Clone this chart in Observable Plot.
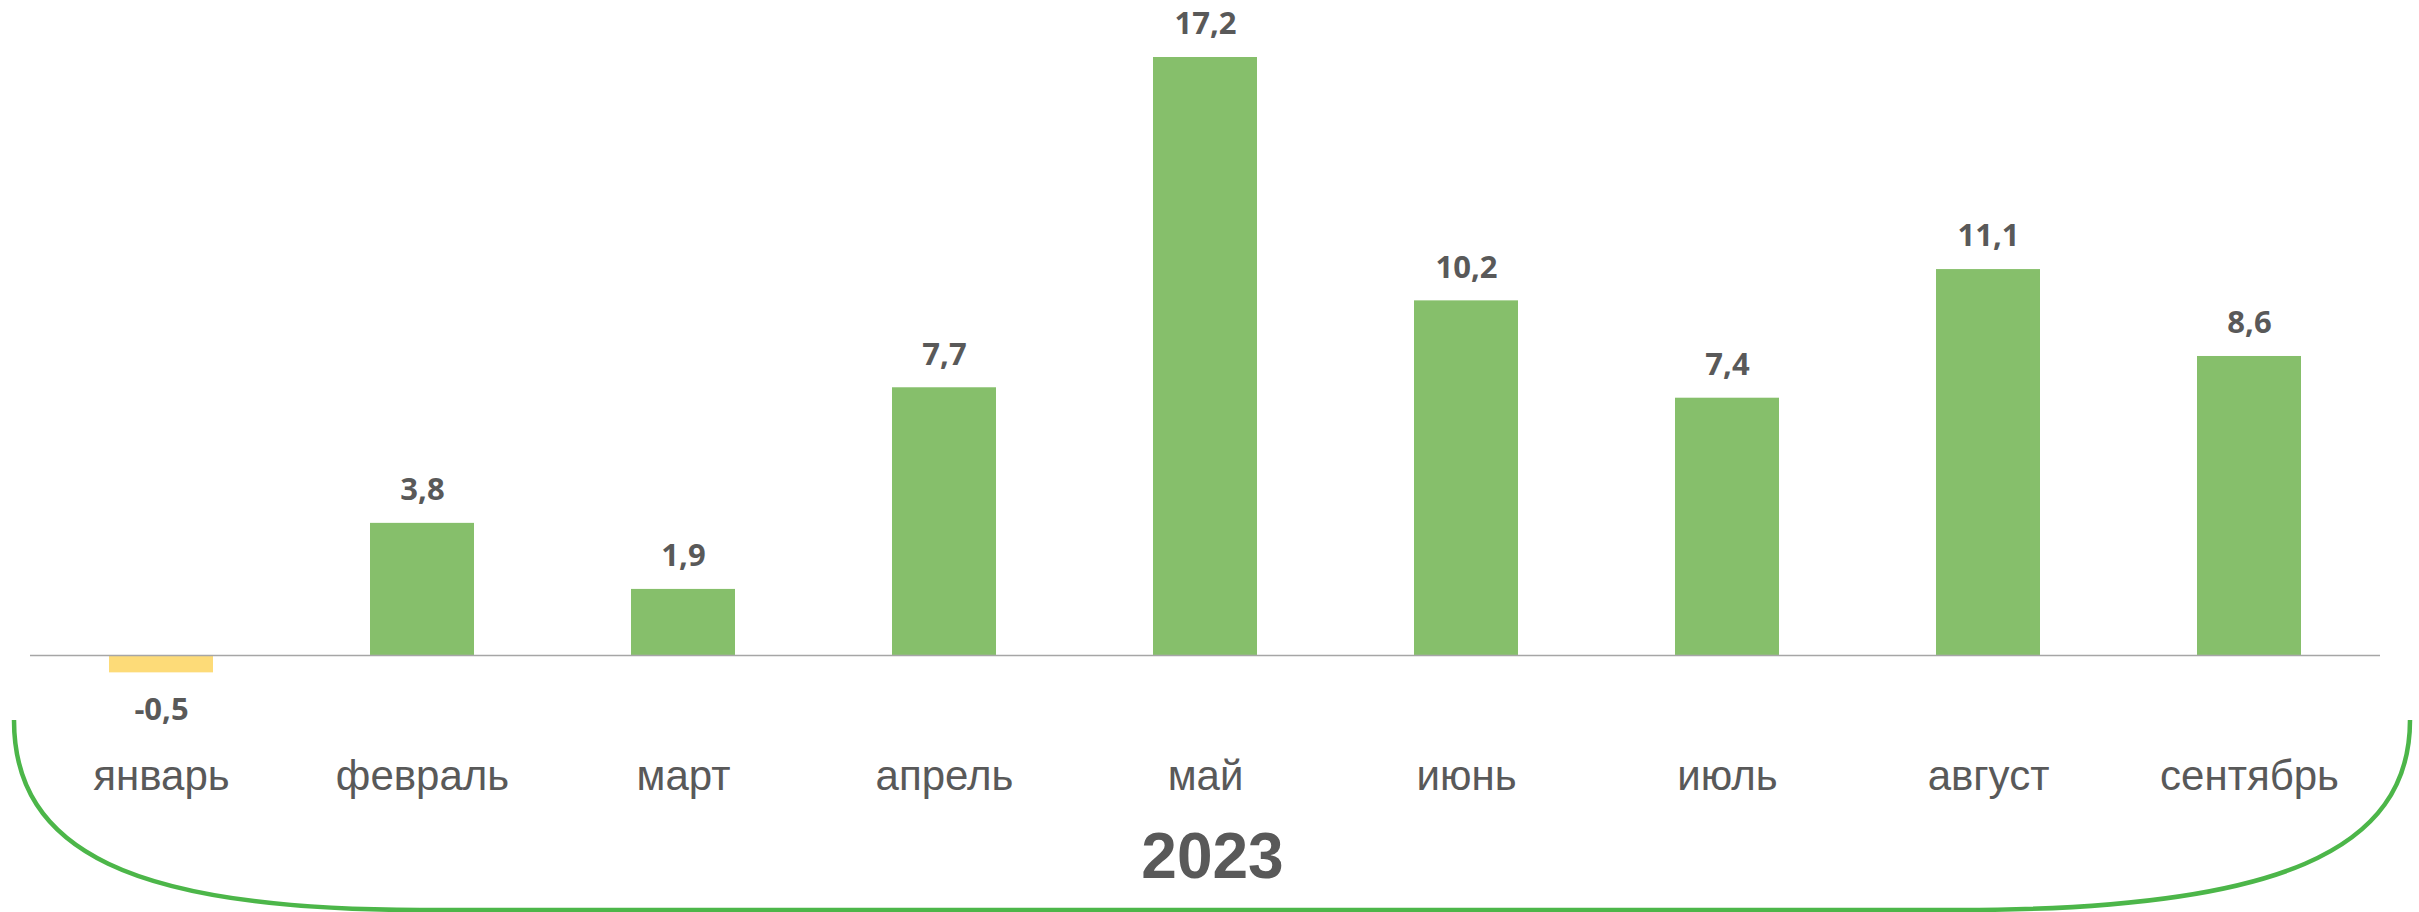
<!DOCTYPE html>
<html>
<head>
<meta charset="utf-8">
<script src="https://cdn.jsdelivr.net/npm/d3@7"></script>
<script src="https://cdn.jsdelivr.net/npm/@observablehq/plot@0.6"></script>
<style>
  html, body { margin: 0; padding: 0; background: #ffffff; }
  #chart svg { display: block; }
</style>
</head>
<body>
<div id="chart"></div>
<script>
const months = ["январь", "февраль", "март", "апрель", "май", "июнь", "июль", "август", "сентябрь"];
const values = [-0.5, 3.8, 1.9, 7.7, 17.2, 10.2, 7.4, 11.1, 8.6];
const yearLabel = ["2023"];

const data = months.map((m, i) => ({month: m, value: values[i]}));
const fmt = v => v.toFixed(1).replace(".", ",");

const GREEN = "#86bf6b";
const YELLOW = "#fddb78";
const TEXT = "#595959";

// decorative bracket under the axis labels
const bracket = (index, scales, vals, dims) => {
  const W = dims.width;
  const g = document.createElementNS("http://www.w3.org/2000/svg", "path");
  const L = 14, R = W - 9, top = 720, bot = 910;
  g.setAttribute("d",
    `M${L},${top} C${L},850 ${L + 116},${bot} ${L + 406},${bot} ` +
    `L${R - 450},${bot} C${R - 130},${bot} ${R},850 ${R},${top}`);
  g.setAttribute("fill", "none");
  g.setAttribute("stroke", "#4cb649");
  g.setAttribute("stroke-width", 4.5);
  return g;
};

const chart = Plot.plot({
  width: 2419,
  height: 912,
  marginLeft: 30,
  marginRight: 39,
  marginTop: 57,
  marginBottom: 187.5,
  style: {background: "#ffffff", color: TEXT},
  x: {domain: months, paddingInner: 0.6, paddingOuter: 0.3, label: null},
  y: {domain: [-2, 17.2], axis: null},
  color: {domain: ["neg", "pos"], range: [YELLOW, GREEN]},
  marks: [
    bracket,
    Plot.barY(data, {x: "month", y: "value", fill: d => d.value < 0 ? "neg" : "pos"}),
    Plot.ruleY([0], {stroke: "#a6a6a6", strokeWidth: 1.5}),
    Plot.axisX({tickSize: 0, tickPadding: 35.5, fontSize: 42, fontFamily: "Liberation Sans, Arial, sans-serif", label: null, fill: TEXT}),
    Plot.text(data.filter(d => d.value >= 0), {x: "month", y: "value", text: d => fmt(d.value), dy: -33, fontSize: 31, fontWeight: "bold", fontFamily: "Open Sans, sans-serif", fill: TEXT}),
    Plot.text(data.filter(d => d.value < 0), {x: "month", y: "value", text: d => fmt(d.value), dy: 37, fontSize: 31, fontWeight: "bold", fontFamily: "Open Sans, sans-serif", fill: TEXT}),
    Plot.text(yearLabel, {frameAnchor: "bottom", dy: 152.5, dx: 7, fontSize: 64, fontWeight: "bold", fontFamily: "Liberation Sans, Arial, sans-serif", fill: TEXT})
  ]
});
document.getElementById("chart").appendChild(chart);
</script>
</body>
</html>
